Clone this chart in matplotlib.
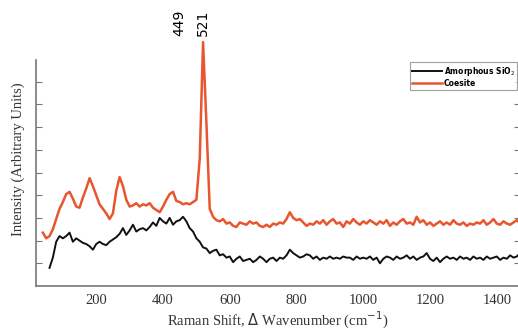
import numpy as np
import matplotlib.pyplot as plt
from matplotlib.transforms import blended_transform_factory

# Raman shift grid (cm^-1), one reading every 10 units
shift = np.arange(40, 1480, 10)

# Coesite spectrum (orange)
coesite = [
    2.35, 2.10, 2.20, 2.50, 2.95, 3.40, 3.70, 4.05, 4.15, 3.85,
    3.50, 3.45, 3.90, 4.30, 4.75, 4.40, 4.00, 3.60, 3.40, 3.20,
    2.95, 3.20, 4.20, 4.80, 4.40, 3.80, 3.50, 3.55, 3.65, 3.50,
    3.60, 3.55, 3.65, 3.45, 3.35, 3.25, 3.50, 3.80, 4.05, 4.15,
    3.75, 3.70, 3.60, 3.65, 3.60, 3.70, 3.80, 5.60, 10.75, 7.20,
    3.40, 3.05, 2.90, 2.85, 2.95, 2.75, 2.80, 2.65, 2.60, 2.80,
    2.75, 2.70, 2.85, 2.75, 2.80, 2.65, 2.60, 2.70, 2.60, 2.75,
    2.70, 2.80, 2.75, 2.95, 3.25, 3.00, 2.90, 2.95, 2.80, 2.65,
    2.75, 2.70, 2.85, 2.75, 2.90, 2.70, 2.85, 2.95, 2.75, 2.80,
    2.60, 2.85, 2.75, 2.95, 2.80, 2.70, 2.85, 2.75, 2.90, 2.80,
    2.70, 2.85, 2.75, 2.90, 2.65, 2.80, 2.70, 2.85, 2.95, 2.75,
    2.80, 2.70, 3.05, 2.80, 2.90, 2.70, 2.80, 2.65, 2.75, 2.85,
    2.70, 2.80, 2.70, 2.90, 2.75, 2.70, 2.80, 2.65, 2.75, 2.70,
    2.80, 2.75, 2.90, 2.70, 2.80, 2.95, 2.75, 2.70, 2.85, 2.75,
    2.70, 2.80, 2.90, 2.75,
]

# Amorphous SiO2 spectrum (black); starts a little later
amorphous = [
    np.nan, np.nan, 0.80, 1.25, 1.95, 2.20, 2.10, 2.20, 2.35, 1.95,
    2.10, 2.00, 1.90, 1.85, 1.75, 1.60, 1.85, 1.95, 1.85, 1.80,
    1.95, 2.05, 2.15, 2.30, 2.55, 2.25, 2.45, 2.70, 2.40, 2.50,
    2.55, 2.45, 2.60, 2.80, 2.65, 3.00, 2.85, 2.75, 3.00, 2.70,
    2.85, 2.90, 3.05, 2.85, 2.55, 2.40, 2.10, 1.95, 1.70, 1.65,
    1.45, 1.55, 1.60, 1.35, 1.40, 1.25, 1.30, 1.05, 1.20, 1.30,
    1.10, 1.15, 1.20, 1.05, 1.15, 1.30, 1.20, 1.05, 1.20, 1.25,
    1.10, 1.25, 1.20, 1.35, 1.60, 1.45, 1.35, 1.25, 1.30, 1.40,
    1.35, 1.20, 1.30, 1.15, 1.25, 1.20, 1.30, 1.20, 1.25, 1.20,
    1.30, 1.25, 1.25, 1.15, 1.30, 1.20, 1.25, 1.20, 1.30, 1.15,
    1.25, 1.00, 1.20, 1.30, 1.25, 1.15, 1.30, 1.20, 1.25, 1.35,
    1.20, 1.30, 1.15, 1.25, 1.30, 1.45, 1.20, 1.10, 1.25, 1.05,
    1.20, 1.30, 1.20, 1.25, 1.15, 1.30, 1.20, 1.25, 1.15, 1.30,
    1.20, 1.25, 1.15, 1.30, 1.20, 1.25, 1.30, 1.15, 1.25, 1.20,
    1.35, 1.25, 1.30, 1.45,
]

peak_labels = ["449", "521"]
peak_pos = [449, 521]

orange = "#e8552e"

fig = plt.figure(figsize=(5.18, 3.32), dpi=100)
ax = fig.add_axes([0.0695, 0.1386, 0.934, 0.6807])

ax.plot(shift, amorphous, color="#111111", lw=1.4, label=r"Amorphous SiO$_2$")
ax.plot(shift, coesite, color=orange, lw=1.8, label="Coesite", clip_on=False)

ax.set_xlim(19.5, 1469)
ax.set_ylim(0, 9.96)

ax.spines["top"].set_visible(False)
ax.spines["right"].set_visible(False)
for s in ("left", "bottom"):
    ax.spines[s].set_color("#777777")
    ax.spines[s].set_linewidth(1.2)

ax.set_xticks([200, 400, 600, 800, 1000, 1200, 1400])
ax.set_yticks(range(1, 10))
ax.tick_params(axis="x", length=0, pad=6, labelsize=10.5, labelcolor="#333333")
ax.tick_params(axis="y", direction="in", length=4, color="#777777",
               labelleft=False, right=True)
for lab in ax.get_xticklabels():
    lab.set_fontfamily("Liberation Serif")

fig.text(0.537, 0.034, r"Raman Shift, $\Delta$ Wavenumber (cm$^{-1}$)",
         ha="center", va="center", fontsize=10.5, family="Liberation Serif",
         color="#333333")
fig.text(0.036, 0.52, "Intensity (Arbitrary Units)", rotation=90,
         ha="center", va="center", fontsize=10.5, family="Liberation Serif",
         color="#333333")

# peak labels above the plot area
trans = blended_transform_factory(ax.transData, fig.transFigure)
for lbl, pos in zip(peak_labels, peak_pos):
    ax.text(pos, 0.893, lbl, transform=trans, rotation=90,
            ha="center", va="bottom", fontsize=10, clip_on=False)

leg = ax.legend(loc="upper right", bbox_to_anchor=(0.995, 0.99),
                fontsize=5.5, frameon=True, fancybox=False,
                handlelength=4, handletextpad=0.2, borderpad=0.3,
                labelspacing=0.2, borderaxespad=0)
leg.get_frame().set_edgecolor("#888888")
leg.get_frame().set_linewidth(0.8)
for t in leg.get_texts():
    t.set_fontweight("bold")

fig.savefig("out.png", dpi=100)
